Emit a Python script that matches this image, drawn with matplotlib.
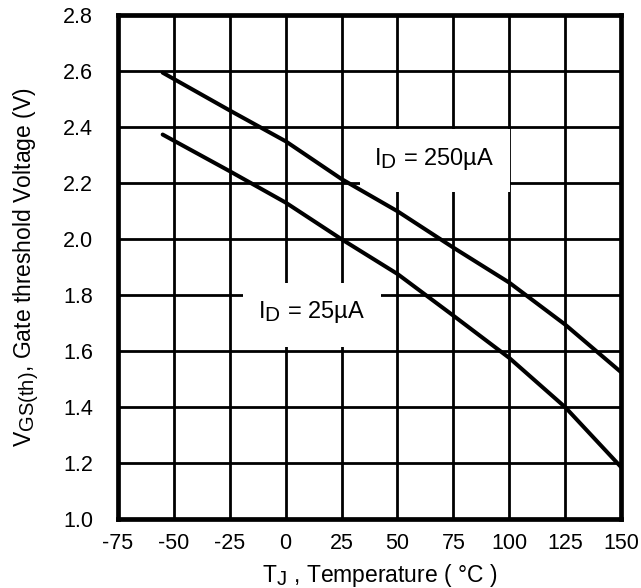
import matplotlib
matplotlib.use("Agg")
import matplotlib.pyplot as plt
from matplotlib.patches import Rectangle
try:
    import matplotlib._mathtext as _mt
    _mt.SHRINK_FACTOR = 0.88
except Exception:
    pass

plt.rcParams['font.family'] = ['Liberation Sans', 'DejaVu Sans']
plt.rcParams['mathtext.fontset'] = 'custom'
plt.rcParams['mathtext.rm'] = 'Liberation Sans'
plt.rcParams['mathtext.it'] = 'Liberation Sans:italic'

# Data
temp = [-55, -25, 0, 25, 50, 75, 100, 125, 150]
vgs_250uA = [2.595, 2.46, 2.35, 2.215, 2.10, 1.97, 1.845, 1.695, 1.525]
vgs_25uA = [2.374, 2.243, 2.131, 2.0, 1.876, 1.727, 1.576, 1.40, 1.186]

x_ticks = [-75, -50, -25, 0, 25, 50, 75, 100, 125, 150]
y_ticks = [1.0, 1.2, 1.4, 1.6, 1.8, 2.0, 2.2, 2.4, 2.6, 2.8]

label_250 = r'$\mathregular{I_D}$ = 250µA'
label_25 = r'$\mathregular{I_D}$ = 25µA'

FS = 15.5

fig = plt.figure(figsize=(6.41, 5.88), dpi=100)
ax = fig.add_axes([0.184, 0.117, 0.785, 0.857])

ax.set_xlim(-75, 150)
ax.set_ylim(1.0, 2.8)
ax.set_xticks(x_ticks)
ax.set_yticks(y_ticks)
ax.set_xticklabels([str(v) for v in x_ticks])
ax.set_yticklabels([f"{v:.1f}" for v in y_ticks])
ax.tick_params(length=0, labelsize=FS, colors='black')
ax.tick_params(axis='y', pad=18)
ax.tick_params(axis='x', pad=10)

for xv in x_ticks[1:-1]:
    ax.axvline(xv, color='black', lw=2.0, zorder=1)
for yv in y_ticks[1:-1]:
    ax.axhline(yv, color='black', lw=2.0, zorder=1)

for s in ax.spines.values():
    s.set_linewidth(3.4)
    s.set_zorder(5)

# White label boxes covering the grid
ax.add_patch(Rectangle((33.2, 2.168), 100.3 - 33.2, 2.394 - 2.168,
                       facecolor='white', edgecolor='none', zorder=2))
ax.add_patch(Rectangle((-19.1, 1.614), 42.6 + 19.1, 1.843 - 1.614,
                       facecolor='white', edgecolor='none', zorder=2))

ax.plot(temp, vgs_250uA, color='black', lw=2.9, solid_capstyle='round', zorder=3)
ax.plot(temp, vgs_25uA, color='black', lw=2.9, solid_capstyle='round', zorder=3)

ax.text(39.7, 2.264, label_250, fontsize=17, ha='left', va='baseline', zorder=4)
ax.text(-12.5, 1.72, label_25, fontsize=17, ha='left', va='baseline', zorder=4)

ax.set_xlabel(r'$\mathregular{T_J}$ , Temperature ( °C )', fontsize=16.5)
ax.xaxis.set_label_coords(0.52, -0.125)
ax.xaxis.label.set_va('baseline')
ax.set_ylabel(r'$\mathregular{V_{GS(th)}}$, Gate threshold Voltage (V)', fontsize=16.5, labelpad=16)

fig.savefig('out.png', dpi=100)
